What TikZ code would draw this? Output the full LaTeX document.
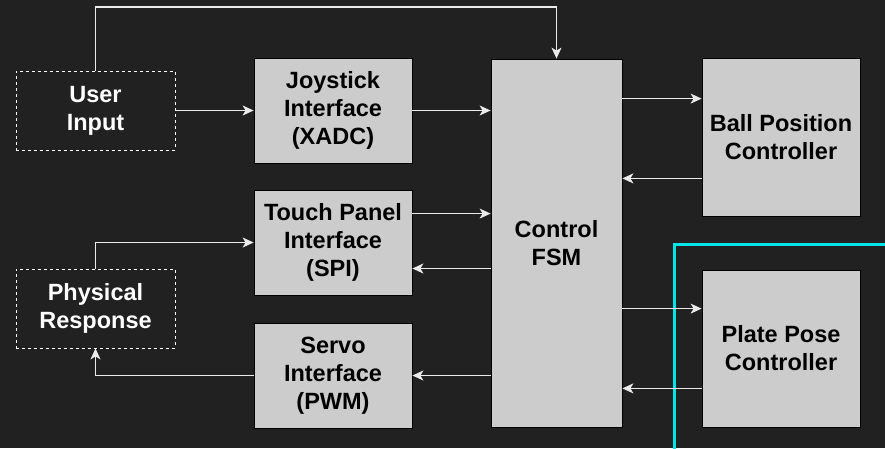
\documentclass[tikz,border=0pt]{standalone}
\usepackage{fontspec}
\setmainfont{Liberation Sans}
\usetikzlibrary{arrows.meta}
\definecolor{bg}{HTML}{212121}
\definecolor{boxfill}{HTML}{CCCCCC}
\definecolor{cyanline}{HTML}{00E6E6}
\tikzset{
  blk/.style={draw=black, line width=0.8pt, fill=boxfill, text=black, font=\bfseries\fontsize{23.5}{28}\selectfont, align=center, inner sep=0pt},
  ext/.style={draw=white, dashed, dash pattern=on 3pt off 3pt, line width=0.8pt, text=white, font=\bfseries\fontsize{23.5}{28}\selectfont, align=center, inner sep=0pt},
  conn/.style={draw=white!92!black, line width=1.3pt, -{Stealth[length=11pt,width=10pt,inset=3pt]}},
}
\begin{document}
\begin{tikzpicture}[x=1pt,y=-1pt]
\fill[bg] (0,0) rectangle (885,448);
\useasboundingbox (0,0) rectangle (885,448);
% boxes
\node[ext, minimum width=159pt, minimum height=79pt] (user) at (95.5,110.5) {User\\Input};
\node[ext, minimum width=159pt, minimum height=79pt] (phys) at (95.5,308.5) {Physical\\Response};
\node[blk, minimum width=158pt, minimum height=105pt] (joy) at (333,110.5) {Joystick\\Interface\\(XADC)};
\node[blk, minimum width=158pt, minimum height=105pt] (touch) at (333,242.5) {Touch Panel\\Interface\\(SPI)};
\node[blk, minimum width=158pt, minimum height=105pt] (servo) at (333,375.5) {Servo\\Interface\\(PWM)};
\node[blk, minimum width=131pt, minimum height=368pt] (fsm) at (556.5,243) {Control\\FSM};
\node[blk, minimum width=158pt, minimum height=158pt] (ball) at (781,137) {Ball Position\\Controller};
\node[blk, minimum width=158pt, minimum height=157pt] (plate) at (781,348.5) {Plate Pose\\Controller};
% highlight
\draw[cyanline, line width=3pt] (896,244) -- (674.5,244) -- (674.5,460);
% connectors
\coordinate (ua) at (95.5,7);
\coordinate (ub) at (556.5,7);
\draw[conn] (user.north) -- (ua) -- (ub) -- (fsm.north);
\draw[conn] (user.east) -- (joy.west);
\draw[conn] (joy.east) -- (joy.east -| fsm.west);
\draw[conn] ([yshift=-24pt]touch.north east) -- ([yshift=-24pt]touch.north east -| fsm.west);
\draw[conn] ([yshift=-26pt]touch.east -| fsm.west) -- ([yshift=-26pt]touch.east);
\coordinate (pa) at (95.5,242.5);
\draw[conn] (phys.north) -- (pa) -- (touch.west);
\coordinate (sa) at (95.5,375.5);
\draw[conn] (servo.west) -- (sa) -- (phys.south);
\draw[conn] (servo.east -| fsm.west) -- (servo.east);
\draw[conn] ([yshift=-41pt]ball.north -| fsm.east) -- ([yshift=-41pt]ball.north west);
\draw[conn] ([yshift=38pt]ball.south west) -- ([yshift=38pt]ball.south west -| fsm.east);
\draw[conn] ([yshift=-39pt]plate.north -| fsm.east) -- ([yshift=-39pt]plate.north west);
\draw[conn] ([yshift=39pt]plate.south west) -- ([yshift=39pt]plate.south west -| fsm.east);
\end{tikzpicture}
\end{document}
